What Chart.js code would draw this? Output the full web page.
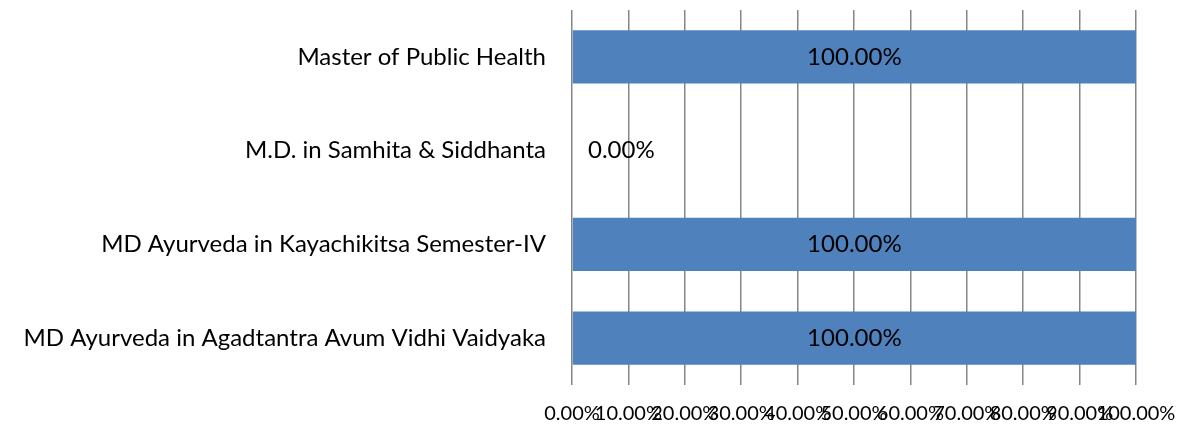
<!DOCTYPE html>
<html>
<head>
<meta charset="utf-8">
<script src="https://cdn.jsdelivr.net/npm/chart.js@4"></script>
<style>
  html, body { margin: 0; padding: 0; background: #fff; }
  #wrap { width: 1178px; height: 427px; }
</style>
</head>
<body>
<div id="wrap"><canvas id="myChart" width="1178" height="427"></canvas></div>
<script>
const categories = [
	'Master of Public Health',
	'M.D. in Samhita & Siddhanta',
	'MD Ayurveda in Kayachikitsa Semester-IV',
	'MD Ayurveda in Agadtantra Avum Vidhi Vaidyaka'
];
const percentValues = [100, 0, 100, 100];
const tickValues = [0, 10, 20, 30, 40, 50, 60, 70, 80, 90, 100];

const FONT = 'Lato, "Open Sans", sans-serif';

// draws the value text on each bar, like the excel data labels
const barLabels = {
	id: 'barLabels',
	afterDatasetsDraw(chart) {
		const ctx = chart.ctx;
		const meta = chart.getDatasetMeta(0);
		ctx.save();
		ctx.font = '24px ' + FONT;
		ctx.fillStyle = '#000';
		ctx.textBaseline = 'middle';
		meta.data.forEach(function(bar, i) {
			const v = percentValues[i];
			const txt = v.toFixed(2) + '%';
			if (v === 0) {
				ctx.textAlign = 'left';
				ctx.fillText(txt, bar.base + 16, bar.y);
			} else {
				ctx.textAlign = 'center';
				ctx.fillText(txt, (bar.base + bar.x) / 2, bar.y);
			}
		});
		ctx.restore();
	}
};

const ctx = document.getElementById('myChart').getContext('2d');
const myChart = new Chart(ctx, {
	type: 'bar',
	data: {
		labels: categories,
		datasets: [{
			data: percentValues,
			backgroundColor: '#4F81BD',
			borderWidth: 0,
			barPercentage: 0.57,
			categoryPercentage: 1
		}]
	},
	options: {
		indexAxis: 'y',
		responsive: false,
		animation: false,
		layout: { padding: { top: 10, right: 42, left: 0, bottom: 0 } },
		plugins: {
			legend: { display: false },
			tooltip: { enabled: false }
		},
		scales: {
			x: {
				min: 0,
				max: 100,
				afterBuildTicks: function(scale) {
					scale.ticks = tickValues.map(function(v) { return { value: v }; });
				},
				afterFit: function(scale) {
					scale.height = 42;
					scale.paddingLeft = 0;
					scale.paddingRight = 0;
				},
				grid: { color: '#868686', lineWidth: 1.5, drawTicks: false },
				border: { display: false },
				ticks: {
					autoSkip: false,
					maxRotation: 0,
					minRotation: 0,
					padding: 17,
					color: '#000',
					font: { family: FONT, size: 20 },
					callback: function(v) { return v.toFixed(2) + '%'; }
				}
			},
			y: {
				afterFit: function(scale) {
					scale.width = 572;
					scale.paddingTop = 0;
					scale.paddingBottom = 0;
				},
				grid: { display: false },
				border: { display: false },
				ticks: {
					padding: 18,
					color: '#000',
					font: { family: FONT, size: 24 }
				}
			}
		}
	},
	plugins: [barLabels]
});
</script>
</body>
</html>
